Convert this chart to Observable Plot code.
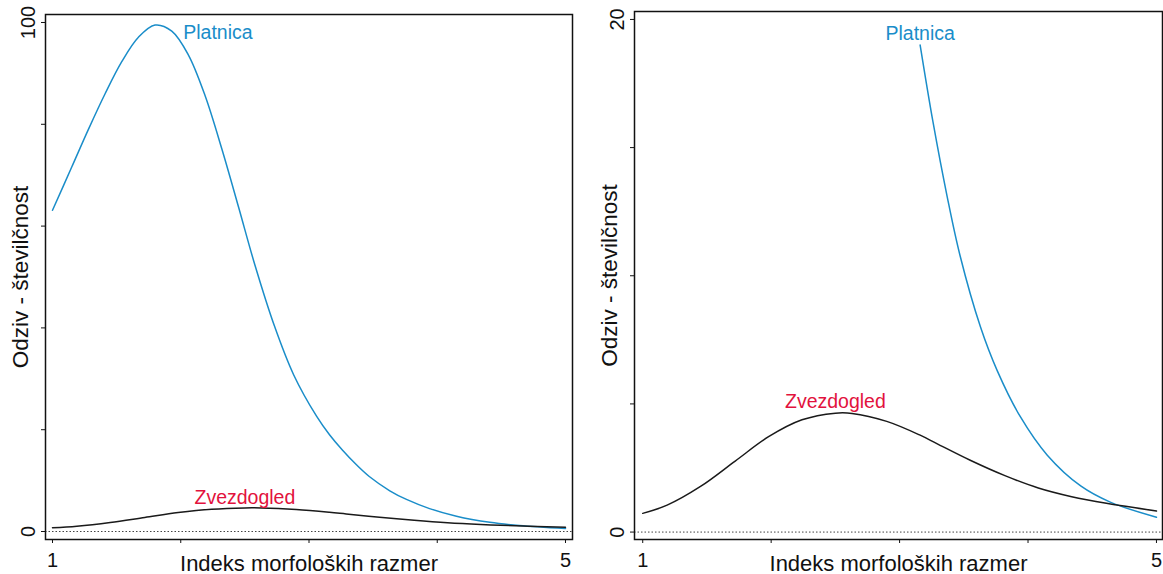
<!DOCTYPE html>
<html>
<head>
<meta charset="utf-8">
<script src="https://cdn.jsdelivr.net/npm/d3@7"></script>
<script src="https://cdn.jsdelivr.net/npm/@observablehq/plot@0.6"></script>
<style>
  body { margin: 0; background: #fff; }
  #wrap { position: relative; width: 1163px; height: 574px; overflow: hidden; background: #fff; }
  .panel { position: absolute; top: 0; }
</style>
</head>
<body>
<div id="wrap">
  <div id="left" class="panel" style="left:0px"></div>
  <div id="right" class="panel" style="left:580px"></div>
</div>
<script>
// ---- Data ----
const platnicaX = [1.00, 1.15, 1.28, 1.41, 1.54, 1.67, 1.80, 1.93, 2.06, 2.19, 2.32, 2.45, 2.58, 2.73, 2.88, 3.06, 3.16, 3.26, 3.37, 3.47, 3.63, 3.76, 3.94, 4.15, 4.41, 4.64, 5.00];
const platnicaY = [63.1, 71.6, 79.0, 86.0, 92.3, 97.1, 99.5, 98.3, 93.6, 85.6, 75.2, 63.8, 52.2, 40.4, 30.8, 22.6, 19.0, 16.0, 13.1, 10.8, 8.0, 6.3, 4.5, 3.0, 1.8, 1.17, 0.58];

const zvezdogledX = [1.00, 1.19, 1.45, 1.72, 1.98, 2.24, 2.50, 2.63, 2.90, 3.16, 3.29, 3.55, 3.82, 4.08, 4.34, 4.61, 5.00];
const zvezdogledY = [0.73, 1.05, 1.78, 2.77, 3.72, 4.38, 4.64, 4.63, 4.32, 3.78, 3.45, 2.80, 2.20, 1.72, 1.38, 1.12, 0.82];

const xTicks = [1, 2, 3, 4, 5];
const xTickLabels = ["1", "", "", "", "5"];
const leftYTicks = [0, 20, 40, 60, 80, 100];
const leftYTickLabels = ["0", "", "", "", "", "100"];
const rightYTicks = [0, 5, 10, 15, 20];
const rightYTickLabels = ["0", "", "", "", "20"];

const seriesNames = ["Platnica", "Zvezdogled"];
const leftLabelPos = [{x: 2.29, y: 98.0}, {x: 2.50, y: 6.7}];
const rightLabelPos = [{x: 3.16, y: 19.45}, {x: 2.50, y: 5.1}];
const rightPlatnicaMax = 19.1;

const xTitle = "Indeks morfoloških razmer";
const yTitle = "Odziv - številčnost";

// ---- Styles ----
const BLUE = "#1a8dc9";
const RED = "#e2123d";
const LINE = "#1a1a1a";
const FONT = "'Liberation Sans', Arial, Helvetica, sans-serif";

const platnica = platnicaX.map((x, i) => ({x, y: platnicaY[i]}));
const zvezdogled = zvezdogledX.map((x, i) => ({x, y: zvezdogledY[i]}));

function panel({width, marginLeft, marginRight, marginTop, marginBottom, xDomain, yDomain, yTicks, yTickLabels, blueData, labelPos}) {
  const labels = seriesNames.map((name, i) => ({name, ...labelPos[i]}));
  return Plot.plot({
    width, height: 574,
    marginLeft, marginRight, marginTop, marginBottom,
    style: {fontFamily: FONT, background: "#fff", color: "#111"},
    x: {domain: xDomain},
    y: {domain: yDomain},
    marks: [
      Plot.ruleY([0], {stroke: "#444", strokeWidth: 1, strokeDasharray: "1.5,2"}),
      Plot.line(blueData, {x: "x", y: "y", stroke: BLUE, strokeWidth: 1.5, curve: "catmull-rom", clip: true}),
      Plot.line(zvezdogled, {x: "x", y: "y", stroke: LINE, strokeWidth: 1.5, curve: "catmull-rom", clip: true}),
      Plot.text(labels, {x: "x", y: "y", text: "name", fill: (d) => d.name === "Platnica" ? BLUE : RED, fontSize: 19.5, textAnchor: "middle", lineAnchor: "middle"}),
      Plot.axisX({ticks: xTicks, tickSize: 4, tickPadding: 9, fontSize: 20,
        tickFormat: (d) => xTickLabels[xTicks.indexOf(d)],
        label: null}),
      Plot.axisX({ticks: [], tickSize: 0, fontSize: 22, label: xTitle, labelAnchor: "center", labelArrow: "none", labelOffset: 31}),
      Plot.axisY({ticks: yTicks, tickSize: 4, tickPadding: 7, tickRotate: -90, fontSize: 20,
        tickFormat: (d) => yTickLabels[yTicks.indexOf(d)],
        label: null}),
      Plot.axisY({ticks: [], tickSize: 0, fontSize: 22.5, label: yTitle, labelAnchor: "center", labelArrow: "none", labelOffset: 33.3}),
      Plot.frame({stroke: "#111", strokeWidth: 1.5})
    ]
  });
}

document.getElementById("left").append(panel({
  width: 580, marginLeft: 45, marginRight: 8, marginTop: 14, marginBottom: 35,
  xDomain: [0.9454, 5.0546], yDomain: [-1.57, 101.57],
  yTicks: leftYTicks, yTickLabels: leftYTickLabels,
  blueData: platnica, labelPos: leftLabelPos
}));

document.getElementById("right").append(panel({
  width: 583, marginLeft: 54, marginRight: 1, marginTop: 11, marginBottom: 35,
  xDomain: [0.936, 5.047], yDomain: [-0.29, 20.31],
  yTicks: rightYTicks, yTickLabels: rightYTickLabels,
  blueData: platnica.filter((d) => d.y <= rightPlatnicaMax), labelPos: rightLabelPos
}));
</script>
</body>
</html>
